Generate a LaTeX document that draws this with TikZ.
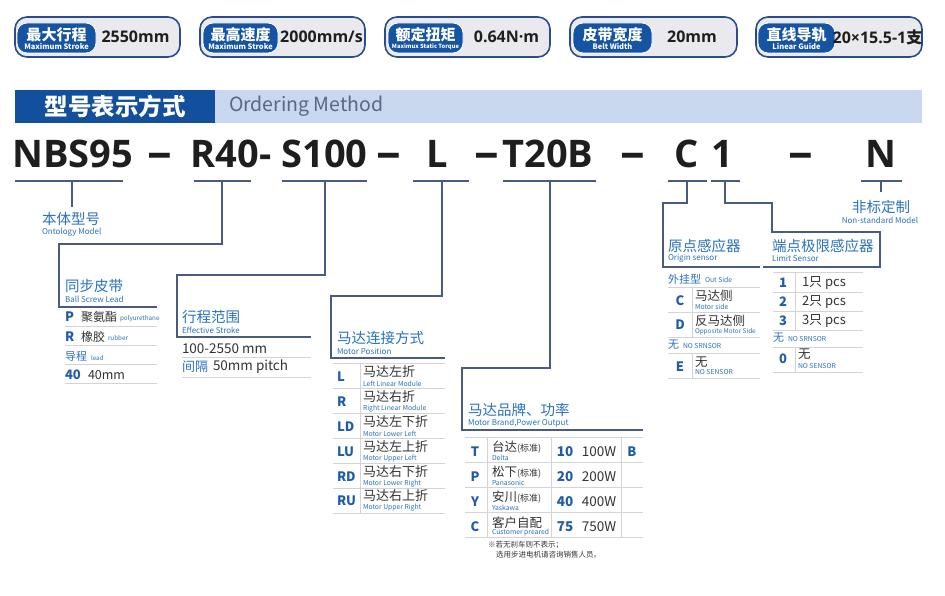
\documentclass[tikz,border=0pt]{standalone}
\usepackage{fontspec}
\usepackage{graphicx}
\setmainfont{Noto Sans CJK SC}
\newfontfamily\osans{Open Sans}
\newcommand\fsz[1]{\fontsize{#1}{#1}\selectfont}
\newcommand\wdash{\scalebox{1.3}[1.15]{–}}
\definecolor{badgeblue}{HTML}{1553A3}
\definecolor{badgeedge}{HTML}{2A4E8C}
\definecolor{badgegray}{HTML}{EAEAEE}
\definecolor{hdrblue}{HTML}{12509E}
\definecolor{hdrlight}{HTML}{C9D8EF}
\definecolor{hdrtext}{HTML}{596781}
\definecolor{lblue}{HTML}{2A72BC}
\definecolor{lineblue}{HTML}{4A5A80}
\definecolor{sepgray}{HTML}{D4D4D8}
\definecolor{codeblack}{HTML}{1E1E1E}
\definecolor{rowtext}{HTML}{333333}
\definecolor{letterblue}{HTML}{1F5DA8}
\tikzset{
  badgeout/.style={draw=badgeedge, line width=1.6pt, fill=badgegray, rounded corners=12pt, minimum height=40pt},
  badgein/.style={fill=badgeblue, draw=white, line width=0.8pt, rounded corners=10pt, minimum height=30pt},
  btitle/.style={text=white, font=\fsz{15}\bfseries},
  bsub/.style={text=white, font=\fsz{7.5}\bfseries},
  bval/.style={text=codeblack, font=\osans\fsz{16}\bfseries},
  codetxt/.style={text=codeblack, font=\osans\fsz{38}\bfseries, anchor=base},
  conn/.style={draw=lineblue, line width=1.1pt},
  labtxt/.style={text=lblue, font=\fsz{14.5}, anchor=west},
  sublab/.style={text=lblue, font=\fsz{8}, anchor=west},
  rowsep/.style={draw=sepgray, line width=0.9pt},
  rowlet/.style={text=letterblue, font=\fsz{13}\bfseries, anchor=west},
  rowletc/.style={text=letterblue, font=\fsz{13}\bfseries, anchor=center},
  rtext/.style={text=rowtext, font=\fsz{12.5}, anchor=west},
  rtextc/.style={text=rowtext, font=\fsz{12.5}, anchor=center},
  rblue/.style={text=lblue, font=\fsz{11.5}, anchor=west},
  rsmall/.style={text=lblue, font=\fsz{6.8}, anchor=west},
  notetxt/.style={text=rowtext, font=\fsz{7.5}, anchor=west},
}
\begin{document}
\begin{tikzpicture}[x=1pt, y=-1pt, every node/.style={inner sep=0pt, outer sep=0pt}]
\useasboundingbox[fill=white] (0,0) rectangle (945,596);

% ---------- badges ----------
\node[badgeout, minimum width=165pt] (b1) at (97.5,37) {};
\node[badgein, minimum width=79pt] (b1i) at (56.5,38) {};
\node[btitle] (b1t) at (56.5,35) {最大行程};
\node[bsub] (b1s) at (56.5,46.5) {Maximum Stroke};
\node[bval] (b1v) at (135.5,37) {2550mm};

\node[badgeout, minimum width=165pt] (b2) at (282.5,37) {};
\node[badgein, minimum width=75pt] (b2i) at (240.5,38) {};
\node[btitle] (b2t) at (240.5,35) {最高速度};
\node[bsub] (b2s) at (240.5,46.5) {Maximum Stroke};
\node[bval] (b2v) at (321.5,37) {2000mm/s};

\node[badgeout, minimum width=165pt] (b3) at (467.5,37) {};
\node[badgein, minimum width=75pt] (b3i) at (425.5,38) {};
\node[btitle] (b3t) at (425.5,35) {额定扭矩};
\node[bsub, font=\fsz{5.8}\bfseries] (b3s) at (425.5,46.5) {Maximux Static Torque};
\node[bval] (b3v) at (506.5,37) {0.64N·m};

\node[badgeout, minimum width=167pt] (b4) at (653.5,37) {};
\node[badgein, minimum width=79pt] (b4i) at (612.5,38) {};
\node[btitle] (b4t) at (612.5,35) {皮带宽度};
\node[bsub] (b4s) at (612.5,46.5) {Belt Width};
\node[bval] (b4v) at (692,37) {20mm};

\node[badgeout, minimum width=166pt] (b5) at (839,37) {};
\node[badgein, minimum width=77pt] (b5i) at (796.5,38) {};
\node[btitle] (b5t) at (796.5,35) {直线导轨};
\node[bsub] (b5s) at (796.5,46.5) {Linear Guide};
\node[bval] (b5v) at (877.5,37) {20×15.5-1{\rmfamily\bfseries 支}};

% ---------- header ----------
\node[fill=hdrblue, minimum width=200pt, minimum height=33pt, anchor=north west] (hb) at (15,90) {};
\node[fill=hdrlight, minimum width=707pt, minimum height=33pt, anchor=north west] (hl) at (215,90) {};
\node[text=white, font=\fsz{23.5}\bfseries] (ht) at (hb.center) {型号表示方式};
\node[text=hdrtext, font=\fsz{19.5}, anchor=west] (hm) at (229,106.5) {Ordering Method};

% ---------- code ----------
\node[codetxt] (c1) at (72.5,168) {NBS95};
\node[codetxt] (d1) at (159.5,168) {\wdash};
\node[codetxt] (c2) at (231,168) {R40-};
\node[codetxt] (c3) at (324.5,168) {S100};
\node[codetxt] (d2) at (389,168) {\wdash};
\node[codetxt] (c4) at (437,168) {L};
\node[codetxt] (d3) at (486.5,168) {\wdash};
\node[codetxt] (c5) at (548,168) {T20B};
\node[codetxt] (d4) at (632.5,168) {\wdash};
\node[codetxt] (c6) at (687,168) {C};
\node[codetxt] (c7) at (722.5,168) {1};
\node[codetxt] (d5) at (800.5,168) {\wdash};
\node[codetxt] (c8) at (880.5,168) {N};

% ---------- connectors ----------
% 1 NBS95
\coordinate (u1a) at (15,181); \coordinate (u1b) at (123,181);
\coordinate (t1a) at (72,181); \coordinate (t1b) at (72,207);
\draw[conn] (u1a) -- (u1b); \draw[conn] (t1a) -- (t1b);
% 2 R40
\coordinate (u2a) at (194,181); \coordinate (u2b) at (251,181);
\coordinate (t2a) at (222,181); \coordinate (t2b) at (222,244);
\coordinate (t2c) at (59,244); \coordinate (t2d) at (59,307); \coordinate (t2e) at (157,307);
\draw[conn] (u2a) -- (u2b); \draw[conn] (t2a) -- (t2b) -- (t2c) -- (t2d) -- (t2e);
% 3 S100
\coordinate (u3a) at (282,181); \coordinate (u3b) at (367,181);
\coordinate (t3a) at (325,181); \coordinate (t3b) at (325,275);
\coordinate (t3c) at (177,275); \coordinate (t3d) at (177,337); \coordinate (t3e) at (311,337);
\draw[conn] (u3a) -- (u3b); \draw[conn] (t3a) -- (t3b) -- (t3c) -- (t3d) -- (t3e);
% 4 L
\coordinate (u4a) at (413,181); \coordinate (u4b) at (469,181);
\coordinate (t4a) at (442,181); \coordinate (t4b) at (442,296);
\coordinate (t4c) at (331,296); \coordinate (t4d) at (331,358); \coordinate (t4e) at (445,358);
\draw[conn] (u4a) -- (u4b); \draw[conn] (t4a) -- (t4b) -- (t4c) -- (t4d) -- (t4e);
% 5 T20B
\coordinate (u5a) at (503,181); \coordinate (u5b) at (596,181);
\coordinate (t5a) at (550,181); \coordinate (t5b) at (550,368);
\coordinate (t5c) at (462,368); \coordinate (t5d) at (462,430); \coordinate (t5e) at (643,430);
\draw[conn] (u5a) -- (u5b); \draw[conn] (t5a) -- (t5b) -- (t5c) -- (t5d) -- (t5e);
% 6 C
\coordinate (u6a) at (668,181); \coordinate (u6b) at (707,181);
\coordinate (t6a) at (687,181); \coordinate (t6b) at (687,203);
\coordinate (t6c) at (663,203); \coordinate (t6d) at (663,267); \coordinate (t6e) at (760,267);
\draw[conn] (u6a) -- (u6b); \draw[conn] (t6a) -- (t6b) -- (t6c) -- (t6d) -- (t6e);
% 7 1
\coordinate (u7a) at (711,181); \coordinate (u7b) at (740,181);
\coordinate (t7a) at (725,181); \coordinate (t7b) at (725,203);
\coordinate (t7c) at (772,203); \coordinate (t7d) at (772,232); \coordinate (t7e) at (880,232);
\coordinate (t7f) at (880,267); \coordinate (t7g) at (763,267);
\draw[conn] (u7a) -- (u7b); \draw[conn] (t7a) -- (t7b) -- (t7c) -- (t7d) -- (t7e) -- (t7f) -- (t7g);
% 8 N
\coordinate (u8a) at (861,181); \coordinate (u8b) at (902,181);
\coordinate (t8a) at (881,181); \coordinate (t8b) at (881,192);
\draw[conn] (u8a) -- (u8b); \draw[conn] (t8a) -- (t8b);

% ---------- labels ----------
\node[labtxt] (l1) at (42,219) {本体型号};
\node[sublab] (l1e) at (42,232) {Ontology Model};
\node[labtxt] (l2) at (65,286) {同步皮带};
\node[sublab] (l2e) at (65,299) {Ball Screw Lead};
\node[labtxt] (l3) at (182,317) {行程范围};
\node[sublab] (l3e) at (182,330) {Effective Stroke};
\node[labtxt] (l4) at (337,338) {马达连接方式};
\node[sublab] (l4e) at (337,351) {Motor Position};
\node[labtxt] (l5) at (468,410) {马达品牌、功率};
\node[sublab] (l5e) at (468,423) {Motor Brand,Power Output};
\node[labtxt] (l6) at (668,246) {原点感应器};
\node[sublab] (l6e) at (668,258) {Origin sensor};
\node[labtxt] (l7) at (772,246) {端点极限感应器};
\node[sublab] (l7e) at (772,258) {Limit Sensor};
\node[labtxt, anchor=center] (l8) at (881,207) {非标定制};
\node[sublab, anchor=center] (l8e) at (880,220) {Non-standard Model};

% ---------- table 1 ----------
\node[rowlet] (p1l) at (65,317) {P};
\node[rtext, font=\fsz{12}] (p1c) at (81,317) {聚氨酯};
\node[rsmall, font=\fsz{6.3}] (p1e) at (120,319) {polyurethane};
\draw[rowsep] (65,326) -- (157,326);
\node[rowlet] (p2l) at (65,337) {R};
\node[rtext, font=\fsz{12}] (p2c) at (81,337) {橡胶};
\node[rsmall, font=\fsz{6.3}] (p2e) at (108,338) {rubber};
\draw[rowsep] (65,345) -- (157,345);
\node[rblue, font=\fsz{11}] (p3c) at (65,356) {导程};
\node[rsmall, font=\fsz{6.3}] (p3e) at (91,358) {lead};
\draw[rowsep] (65,364) -- (157,364);
\node[rowlet] (p4l) at (65,375) {40};
\node[rtext] (p4c) at (88,375) {40mm};
\draw[rowsep] (65,383) -- (157,383);

% ---------- table 2 ----------
\node[rtext, font=\fsz{13.5}] (s1c) at (182,349) {100-2550 mm};
\draw[rowsep] (182,357) -- (311,357);
\node[rblue, font=\fsz{13}] (s2b) at (182,367) {间隔};
\node[rtext, font=\fsz{13.5}] (s2c) at (213,367) {50mm pitch};
\draw[rowsep] (182,377) -- (311,377);

% ---------- table 3 ----------
\foreach \y in {363,388,413,438,463,488,513} { \draw[rowsep] (333,\y) -- (445,\y); }
\draw[rowsep] (360,363) -- (360,513);
\foreach \n/\yc/\lt/\cn/\en in {
  ma/377/L/马达左折/Left Linear Module,
  mb/402/R/马达右折/Right Linear Module,
  mc/427/LD/马达左下折/Motor Lower Left,
  md/452/LU/马达左上折/Motor Upper Left,
  me/477/RD/马达右下折/Motor Lower Right,
  mf/501/RU/马达右上折/Motor Upper Right} {
  \node[rowlet] (\n l) at (337,\yc) {\lt};
  \node[rtext, font=\fsz{13}] (\n c) at (363,\yc-5) {\cn};
  \node[rsmall] (\n e) at (363,\yc+6.5) {\en};
}

% ---------- table 4 ----------
\foreach \y in {437,462,487,512,537} { \draw[rowsep] (465,\y) -- (643,\y); }
\foreach \x in {487,551,621} { \draw[rowsep] (\x,437) -- (\x,537); }
\foreach \n/\yc/\lt/\cn/\en/\num/\pw in {
  ta/449.5/T/台达{\fsz{9}(标准)}/Delta/10/100W,
  tb/474.5/P/松下{\fsz{9}(标准)}/Panasonic/20/200W,
  tc/499.5/Y/安川{\fsz{9}(标准)}/Yaskawa/40/400W,
  td/524.5/C/客户自配/Customer preared/75/750W} {
  \node[rowletc] (\n l) at (475,\yc+2) {\lt};
  \node[rtext] (\n c) at (492,\yc-2) {\cn};
  \node[rsmall] (\n e) at (492,\yc+8) {\en};
  \node[rowletc, font=\fsz{13.5}\bfseries] (\n n) at (565,\yc+2) {\num};
  \node[rtextc, font=\fsz{13.5}] (\n p) at (599,\yc+2) {\pw};
}
\node[rowletc] (tbb) at (632,451.5) {B};
\node[notetxt] (n1) at (488,545) {※若无刹车则不表示；};
\node[notetxt] (n2) at (496,555) {选用步进电机请咨询销售人员。};

% ---------- table 5 ----------
\node[rblue, font=\fsz{11}] (o0) at (668,279) {外挂型};
\node[rsmall] (o0e) at (705,280) {Out Side};
\draw[rowsep] (668,287) -- (760,287);
\node[rowletc] (o1l) at (680,301) {C};
\node[rtext] (o1c) at (695,296) {马达侧};
\node[rsmall] (o1e) at (695,307) {Motor side};
\draw[rowsep] (668,312) -- (760,312);
\node[rowletc] (o2l) at (680,325) {D};
\node[rtext] (o2c) at (695,321) {反马达侧};
\node[rsmall, font=\fsz{6.4}] (o2e) at (695,332) {Opposite Motor Side};
\draw[rowsep] (668,337) -- (760,337);
\node[rblue, font=\fsz{11}] (o3c) at (668,345) {无};
\node[rsmall] (o3e) at (683,346) {NO SRNSOR};
\draw[rowsep] (668,353) -- (760,353);
\node[rowletc] (o4l) at (680,367) {E};
\node[rtext] (o4c) at (695,362) {无};
\node[rsmall] (o4e) at (695,372) {NO SENSOR};
\draw[rowsep] (668,378) -- (760,378);
\draw[rowsep] (692,287) -- (692,337);
\draw[rowsep] (692,353) -- (692,378);

% ---------- table 6 ----------
\draw[rowsep] (773,272) -- (863,272);
\node[rowletc] (e1l) at (783,283) {1};
\node[rtext, font=\fsz{13}] (e1c) at (802,283) {1只 pcs};
\draw[rowsep] (773,292) -- (863,292);
\node[rowletc] (e2l) at (783,302) {2};
\node[rtext, font=\fsz{13}] (e2c) at (802,302) {2只 pcs};
\draw[rowsep] (773,311) -- (863,311);
\node[rowletc] (e3l) at (783,321) {3};
\node[rtext, font=\fsz{13}] (e3c) at (802,321) {3只 pcs};
\draw[rowsep] (773,330) -- (863,330);
\node[rblue, font=\fsz{11}] (e4c) at (773,338) {无};
\node[rsmall] (e4e) at (788,339) {NO SRNSOR};
\draw[rowsep] (773,347) -- (863,347);
\node[rowletc] (e5l) at (783,359) {0};
\node[rtext] (e5c) at (798,354) {无};
\node[rsmall] (e5e) at (798,366) {NO SENSOR};
\draw[rowsep] (773,372) -- (863,372);
\draw[rowsep] (795,272) -- (795,330);
\draw[rowsep] (795,347) -- (795,372);
\end{tikzpicture}
\end{document}
